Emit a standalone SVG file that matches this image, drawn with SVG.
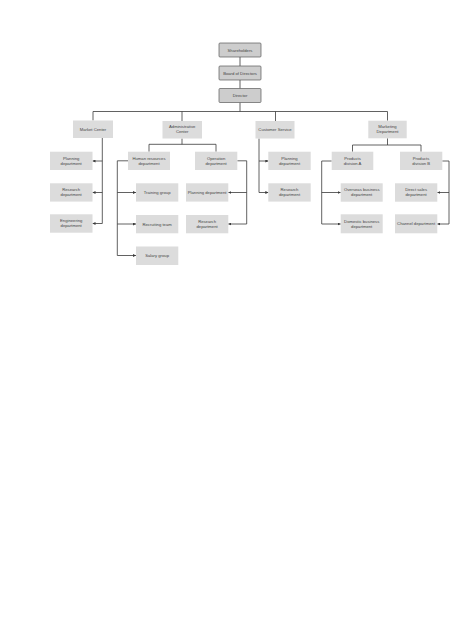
<svg xmlns="http://www.w3.org/2000/svg" width="474" height="632" viewBox="0 0 474 632">
<defs>
<marker id="arr" viewBox="0 0 6 6" refX="6" refY="3" markerWidth="3" markerHeight="3" markerUnits="userSpaceOnUse" orient="auto">
<path d="M0,0 L6,3 L0,6 z" fill="#3a3a3a"/>
</marker>
<style>
.top{fill:#cdcdcd;stroke:#5a5a5a;stroke-width:0.7}
.box{fill:#dcdcdc}
.t{font-family:"Liberation Sans",Arial,sans-serif;font-size:4.2px;fill:#444;text-anchor:middle}
.c{fill:none;stroke:#3a3a3a;stroke-width:0.8}
.a{fill:none;stroke:#3a3a3a;stroke-width:0.8;marker-end:url(#arr)}
</style>
</defs>
<rect width="474" height="632" fill="#ffffff"/>
<g id="connectors">
<path class="c" d="M240,57 V66 M240,80 V88.5 M240,102.5 V111.5"/>
<path class="c" d="M93,120.5 V111.5 H387.5 V120.7 M182,111.5 V121 M275.5,111.5 V121"/>
<path class="c" d="M102.3,138 V223.5"/>
<path class="a" d="M102.3,161 H92.5"/>
<path class="a" d="M102.3,192.5 H92.5"/>
<path class="a" d="M102.3,223.5 H92.5"/>
<path class="c" d="M182,138.5 V144.3 M149,151.7 V144.3 H216 V151.7"/>
<path class="c" d="M128,160.8 H117.3 V255.5"/>
<path class="a" d="M117.3,192.5 H136"/>
<path class="a" d="M117.3,224 H136"/>
<path class="a" d="M117.3,255.5 H136"/>
<path class="c" d="M237.3,160.8 H246.7 V224"/>
<path class="a" d="M246.7,192.5 H228.3"/>
<path class="a" d="M246.7,224 H228.3"/>
<path class="c" d="M259,138.5 V192.5"/>
<path class="a" d="M259,161 H268.3"/>
<path class="a" d="M259,192.5 H268.3"/>
<path class="c" d="M387.5,138.3 V145 M352.5,151.7 V145 H421 V151.7"/>
<path class="c" d="M331.7,161 H321.7 V224"/>
<path class="a" d="M321.7,192.5 H340.7"/>
<path class="a" d="M321.7,224 H340.7"/>
<path class="c" d="M442.3,161 H449 V224"/>
<path class="a" d="M449,192.5 H437.3"/>
<path class="a" d="M449,224 H437.3"/>
</g>
<g id="shareholders"><rect class="top" x="219" y="43" width="42" height="14" rx="1"/><text class="t" x="240" y="51.5">Shareholders</text></g>
<g id="board"><rect class="top" x="219" y="66" width="42" height="14" rx="1"/><text class="t" x="240" y="74.5">Board of Directors</text></g>
<g id="director"><rect class="top" x="219" y="88.5" width="42" height="14" rx="1"/><text class="t" x="240" y="97">Director</text></g>

<g id="market-center"><rect class="box" x="73" y="120.5" width="40" height="17.5"/><text class="t" x="93" y="130.7">Market Center</text></g>
<g id="mc-planning"><rect class="box" x="50" y="151.7" width="42.5" height="18.3"/><text class="t" x="71.2" y="159.6">Planning</text><text class="t" x="71.2" y="164.6">department</text></g>
<g id="mc-research"><rect class="box" x="50" y="183.3" width="42.5" height="18.3"/><text class="t" x="71.2" y="191.2">Research</text><text class="t" x="71.2" y="196.2">department</text></g>
<g id="mc-engineering"><rect class="box" x="50" y="214.3" width="42.5" height="18.4"/><text class="t" x="71.2" y="222.2">Engineering</text><text class="t" x="71.2" y="227.2">department</text></g>

<g id="admin-center"><rect class="box" x="162.5" y="121" width="39.5" height="17.5"/><text class="t" x="182.2" y="128.3">Administrative</text><text class="t" x="182.2" y="133.3">Center</text></g>
<g id="hr"><rect class="box" x="128" y="151.7" width="42" height="18.3"/><text class="t" x="149" y="159.6">Human resources</text><text class="t" x="149" y="164.6">department</text></g>
<g id="operation"><rect class="box" x="195" y="151.7" width="42.3" height="18.3"/><text class="t" x="216.1" y="159.6">Operation</text><text class="t" x="216.1" y="164.6">department</text></g>
<g id="training"><rect class="box" x="136" y="183.3" width="42.3" height="18.3"/><text class="t" x="157.1" y="193.9">Training group</text></g>
<g id="recruiting"><rect class="box" x="136" y="215" width="42.3" height="18.3"/><text class="t" x="157.1" y="225.6">Recruiting team</text></g>
<g id="salary"><rect class="box" x="136" y="246.5" width="42.3" height="18.5"/><text class="t" x="157.1" y="257.2">Salary group</text></g>
<g id="op-planning"><rect class="box" x="186" y="183.3" width="42.3" height="18.3"/><text class="t" x="207.1" y="193.9">Planning department</text></g>
<g id="op-research"><rect class="box" x="186" y="215" width="42.3" height="18.3"/><text class="t" x="207.1" y="222.9">Research</text><text class="t" x="207.1" y="227.9">department</text></g>

<g id="customer-service"><rect class="box" x="255.5" y="121" width="39" height="17.5"/><text class="t" x="275" y="131.2">Customer Service</text></g>
<g id="cs-planning"><rect class="box" x="268.3" y="151.7" width="42.4" height="18.3"/><text class="t" x="289.5" y="159.6">Planning</text><text class="t" x="289.5" y="164.6">department</text></g>
<g id="cs-research"><rect class="box" x="268.3" y="183.3" width="42.4" height="18.3"/><text class="t" x="289.5" y="191.2">Research</text><text class="t" x="289.5" y="196.2">department</text></g>

<g id="marketing"><rect class="box" x="368.3" y="120.7" width="38.4" height="17.6"/><text class="t" x="387.5" y="128">Marketing</text><text class="t" x="387.5" y="133">Department</text></g>
<g id="products-a"><rect class="box" x="331.7" y="151.7" width="41.6" height="18.3"/><text class="t" x="352.5" y="159.6">Products</text><text class="t" x="352.5" y="164.6">division A</text></g>
<g id="products-b"><rect class="box" x="400" y="151.7" width="42.3" height="18.3"/><text class="t" x="421.1" y="159.6">Products</text><text class="t" x="421.1" y="164.6">division B</text></g>
<g id="overseas"><rect class="box" x="340.7" y="183.3" width="42" height="18.4"/><text class="t" x="361.7" y="191.2">Overseas business</text><text class="t" x="361.7" y="196.2">department</text></g>
<g id="domestic"><rect class="box" x="340.7" y="214.3" width="42" height="19"/><text class="t" x="361.7" y="222.5">Domestic business</text><text class="t" x="361.7" y="227.5">department</text></g>
<g id="direct-sales"><rect class="box" x="395" y="183.3" width="42.3" height="18.4"/><text class="t" x="416.1" y="191.2">Direct sales</text><text class="t" x="416.1" y="196.2">department</text></g>
<g id="channel"><rect class="box" x="395" y="214.3" width="42.3" height="19"/><text class="t" x="416.1" y="225.2">Channel department</text></g>
</svg>
